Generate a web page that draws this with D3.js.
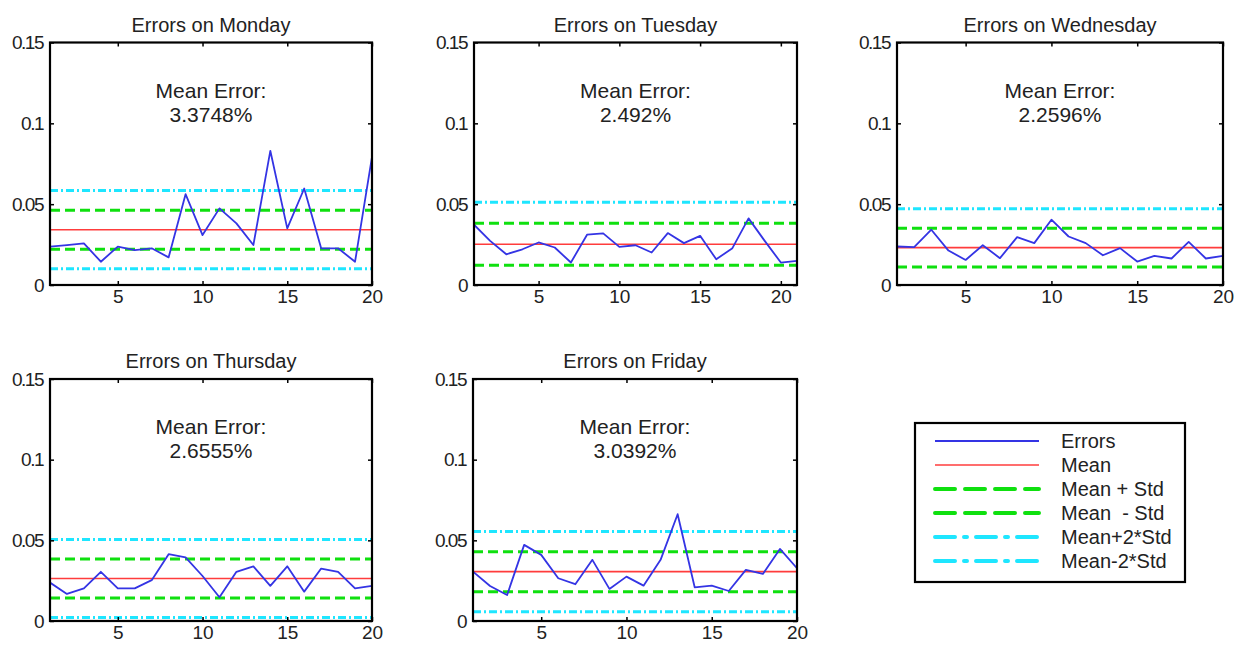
<!DOCTYPE html>
<html>
<head>
<meta charset="utf-8">
<script src="https://cdn.jsdelivr.net/npm/d3@7"></script>
<style>
  body { margin: 0; background: #fff; }
  svg { display: block; font-family: "Liberation Sans", Arial, sans-serif; }
</style>
</head>
<body>
<svg id="chart" width="1246" height="648"></svg>
<script>
// ---------------- DATA ----------------
const days = ["Monday", "Tuesday", "Wednesday", "Thursday", "Friday"];

const mondayErrors    = [0.0237, 0.0247, 0.0258, 0.0144, 0.0237, 0.0216, 0.0227, 0.0171, 0.0562, 0.0309,
                         0.0474, 0.0381, 0.0247, 0.0830, 0.0350, 0.0597, 0.0227, 0.0227, 0.0144, 0.0793];
const tuesdayErrors   = [0.0373, 0.0273, 0.0190, 0.0221, 0.0263, 0.0232, 0.0139, 0.0311, 0.0319, 0.0236,
                         0.0246, 0.0201, 0.0321, 0.0259, 0.0304, 0.0159, 0.0228, 0.0412, 0.0273, 0.0139, 0.0149];
const wednesdayErrors = [0.0238, 0.0234, 0.0342, 0.0213, 0.0155, 0.0246, 0.0166, 0.0296, 0.0259, 0.0404,
                         0.0300, 0.0259, 0.0184, 0.0228, 0.0145, 0.0180, 0.0164, 0.0267, 0.0164, 0.0180];
const thursdayErrors  = [0.0238, 0.0168, 0.0202, 0.0305, 0.0202, 0.0202, 0.0253, 0.0414, 0.0394, 0.0279,
                         0.0147, 0.0305, 0.0339, 0.0218, 0.0339, 0.0182, 0.0325, 0.0305, 0.0202, 0.0218];
const fridayErrors    = [0.0306, 0.0217, 0.0161, 0.0472, 0.0410, 0.0265, 0.0228, 0.0379, 0.0199, 0.0275,
                         0.0219, 0.0379, 0.0662, 0.0209, 0.0219, 0.0186, 0.0317, 0.0292, 0.0447, 0.0327];
const errorSeries = [mondayErrors, tuesdayErrors, wednesdayErrors, thursdayErrors, fridayErrors];

const meanValues = [0.0342, 0.0252, 0.0231, 0.0263, 0.0306];
const stdValues  = [0.0121, 0.0130, 0.0120, 0.0121, 0.0124];
const meanLabels = ["3.3748%", "2.492%", "2.2596%", "2.6555%", "3.0392%"];

const yTicks = [0, 0.05, 0.1, 0.15];
const yTickLabels = ["0", "0.05", "0.1", "0.15"];
const xTicks = [5, 10, 15, 20];

const legendLabels = ["Errors", "Mean", "Mean + Std", "Mean  - Std", "Mean+2*Std", "Mean-2*Std"];

// ---------------- LAYOUT / STYLE ----------------
const panels = [
  { left: 50,  right: 372,  top: 42.5, bottom: 285 },
  { left: 474, right: 797,  top: 42.5, bottom: 285 },
  { left: 897, right: 1223, top: 42.5, bottom: 285 },
  { left: 50,  right: 372,  top: 379,  bottom: 621 },
  { left: 473, right: 797,  top: 379,  bottom: 621 }
];

const styles = {
  errors: { color: "#3434e4", width: 1.8, dash: null },
  mean:   { color: "#ff3c3c", width: 1.6, dash: null },
  std:    { color: "#0fe00f", width: 3,   dash: "10,5" },
  std2:   { color: "#1ee6ff", width: 3,   dash: "8,3,2,3" }
};

const svg = d3.select("#chart");
const defs = svg.append("defs");

days.forEach((day, i) => {
  const p = panels[i];
  const data = errorSeries[i];
  const x = d3.scaleLinear().domain([1, data.length]).range([p.left, p.right]);
  const y = d3.scaleLinear().domain([0, 0.15]).range([p.bottom, p.top]);

  const g = svg.append("g");

  defs.append("clipPath").attr("id", "clip" + i)
    .append("rect")
    .attr("x", p.left).attr("y", p.top)
    .attr("width", p.right - p.left).attr("height", p.bottom - p.top);

  const plot = g.append("g").attr("clip-path", "url(#clip" + i + ")");

  const hLine = (v, st) => {
    plot.append("line")
      .attr("x1", x.range()[0]).attr("x2", x.range()[1])
      .attr("y1", y(v)).attr("y2", y(v))
      .attr("stroke", st.color).attr("stroke-width", st.width)
      .attr("stroke-dasharray", st.dash);
  };
  const m = meanValues[i], s = stdValues[i];
  hLine(m + 2 * s, styles.std2);
  hLine(m - 2 * s, styles.std2);
  hLine(m + s, styles.std);
  hLine(m - s, styles.std);
  hLine(m, styles.mean);

  const line = d3.line().x((d, k) => x(k + 1)).y(d => y(d));
  plot.append("path").datum(data)
    .attr("d", line)
    .attr("fill", "none")
    .attr("stroke", styles.errors.color)
    .attr("stroke-width", styles.errors.width)
    .attr("stroke-linejoin", "round");

  // axes
  const axB = d3.axisBottom(x).tickValues(xTicks).tickFormat(d3.format("d"))
    .tickSizeInner(-4).tickSizeOuter(0).tickPadding(5);
  const axT = d3.axisTop(x).tickValues(xTicks).tickFormat("")
    .tickSizeInner(-4).tickSizeOuter(0);
  const axL = d3.axisLeft(y).tickValues(yTicks).tickFormat((d, k) => yTickLabels[k])
    .tickSizeInner(-4).tickSizeOuter(0).tickPadding(7);
  const axR = d3.axisRight(y).tickValues(yTicks).tickFormat("")
    .tickSizeInner(-4).tickSizeOuter(0);

  const styleAxis = sel => {
    sel.select(".domain").remove();
    sel.selectAll(".tick line").attr("stroke", "#000").attr("stroke-width", 1.5);
    sel.selectAll(".tick text").attr("fill", "#222").attr("font-size", 19)
      .attr("font-family", "'Liberation Sans', Arial, sans-serif");
  };
  g.append("g").attr("transform", `translate(0,${p.bottom})`).call(axB).call(styleAxis);
  g.append("g").attr("transform", `translate(0,${p.top})`).call(axT).call(styleAxis);
  g.append("g").attr("transform", `translate(${p.left},0)`).call(axL).call(styleAxis)
    .selectAll(".tick text").attr("letter-spacing", -1.5);
  g.append("g").attr("transform", `translate(${p.right},0)`).call(axR).call(styleAxis);

  // frame
  g.append("rect")
    .attr("x", p.left).attr("y", p.top)
    .attr("width", p.right - p.left).attr("height", p.bottom - p.top)
    .attr("fill", "none").attr("stroke", "#000").attr("stroke-width", 2.2);

  const cx = (p.left + p.right) / 2;
  g.append("text").attr("x", cx).attr("y", p.top - 11)
    .attr("text-anchor", "middle").attr("font-size", 20).attr("fill", "#222")
    .text("Errors on " + day);

  g.append("text").attr("x", cx).attr("y", p.top + 55)
    .attr("text-anchor", "middle").attr("font-size", 21).attr("fill", "#222")
    .text("Mean Error:");
  g.append("text").attr("x", cx).attr("y", p.top + 79)
    .attr("text-anchor", "middle").attr("font-size", 21).attr("fill", "#222")
    .text(meanLabels[i]);
});

// ---------------- LEGEND ----------------
const legendStyles = [
  styles.errors, styles.mean,
  { color: styles.std.color, width: 4, dash: "20,10" },
  { color: styles.std.color, width: 4, dash: "20,10" },
  { color: styles.std2.color, width: 4, dash: "20,9,3,9" },
  { color: styles.std2.color, width: 4, dash: "20,9,3,9" }
];
const lg = svg.append("g");
lg.append("rect").attr("x", 915).attr("y", 423).attr("width", 270).attr("height", 159)
  .attr("fill", "#fff").attr("stroke", "#000").attr("stroke-width", 2.2);
const rowY = d3.scaleLinear().domain([0, 1]).range([441, 465]);
legendLabels.forEach((lab, k) => {
  const st = legendStyles[k];
  const yy = rowY(k);
  lg.append("line").attr("x1", 935).attr("x2", 1039).attr("y1", yy).attr("y2", yy)
    .attr("stroke", st.color).attr("stroke-width", st.width)
    .attr("stroke-dasharray", st.dash).attr("stroke-linecap", st.dash ? "round" : "butt");
  lg.append("text").attr("x", 1061).attr("y", yy + 7)
    .attr("font-size", 20).attr("fill", "#222").attr("xml:space", "preserve")
    .style("white-space", "pre")
    .text(lab);
});
</script>
</body>
</html>
